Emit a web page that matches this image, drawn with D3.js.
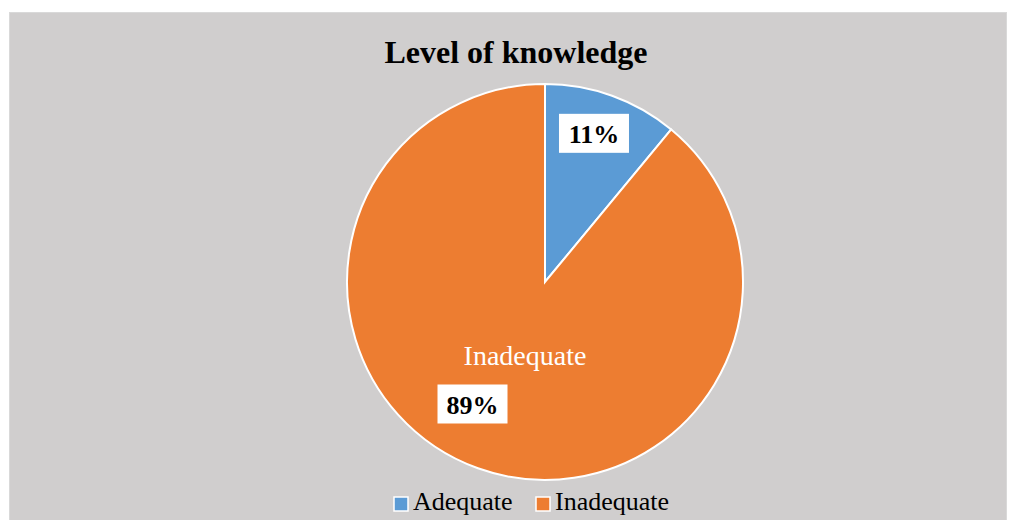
<!DOCTYPE html>
<html>
<head>
<meta charset="utf-8">
<script src="https://cdn.jsdelivr.net/npm/d3@7"></script>
<style>
  body { margin: 0; background: #fff; }
  svg text { font-family: "Liberation Serif", "Times New Roman", serif; }
</style>
</head>
<body>
<svg id="chart" width="1010" height="520"></svg>
<script>
// data
var categories = ['Adequate', 'Inadequate'];
var values = [11, 89];
var colors = ['#5b9bd5', '#ed7d31'];
var titleText = 'Level of knowledge';

var svg = d3.select('#chart');

/*chart area background*/
svg.append('rect')
    .attr('x', 9.5).attr('y', 12.5)
    .attr('width', 997).attr('height', 520)
    .attr('fill', '#d0cece')
    .attr('stroke', '#d9d9d9');

svg.append('text')
    .attr('x', 516).attr('y', 63)
    .attr('text-anchor', 'middle')
    .attr('font-size', 32).attr('font-weight', 'bold')
    .attr('fill', '#000')
    .text(titleText);

var cx = 545, cy = 282, r = 198;
var pie = d3.pie().sort(null).value(d => d.v);
var arcs = pie(categories.map((c, i) => ({ c: c, v: values[i], col: colors[i] })));
var arc = d3.arc().innerRadius(0).outerRadius(r);

var g = svg.append('g').attr('transform', 'translate(' + cx + ',' + cy + ')');
g.selectAll('path').data(arcs).enter().append('path')
    .attr('d', arc)
    .attr('fill', d => d.data.col)
    .attr('stroke', '#fff')
    .attr('stroke-width', 2);

/*percent labels with white boxes*/
var labelArc = d3.arc().innerRadius(r * 0.79).outerRadius(r * 0.79);
var c0 = labelArc.centroid(arcs[0]);
var pctPos = [[c0[0] - 4, c0[1] - 1], [-72.5, 122.5]];
arcs.forEach(function(d, i) {
    var p = pctPos[i];
    var lg = g.append('g').attr('transform', 'translate(' + p[0] + ',' + p[1] + ')');
    lg.append('rect')
        .attr('x', -35).attr('y', -20)
        .attr('width', 70).attr('height', 39)
        .attr('fill', '#fff');
    lg.append('text')
        .attr('text-anchor', 'middle')
        .attr('y', 9)
        .attr('font-size', 26).attr('font-weight', 'bold')
        .attr('fill', '#000')
        .text(d.data.v + '%');
});

/*category name inside big slice*/
g.append('text')
    .attr('x', -20).attr('y', 83)
    .attr('text-anchor', 'middle')
    .attr('font-size', 28)
    .attr('fill', '#fff')
    .text(categories[1]);

/*legend*/
var legend = svg.append('g').attr('transform', 'translate(394,497)');
var lx = [0, 142];
categories.forEach(function(c, i) {
    var item = legend.append('g').attr('transform', 'translate(' + lx[i] + ',0)');
    item.append('rect')
        .attr('width', 14).attr('height', 14)
        .attr('fill', colors[i])
        .attr('stroke', '#fff').attr('stroke-width', 1.5);
    item.append('text')
        .attr('x', 19).attr('y', 13)
        .attr('font-size', 26)
        .attr('fill', '#000')
        .text(c);
});
</script>
</body>
</html>
